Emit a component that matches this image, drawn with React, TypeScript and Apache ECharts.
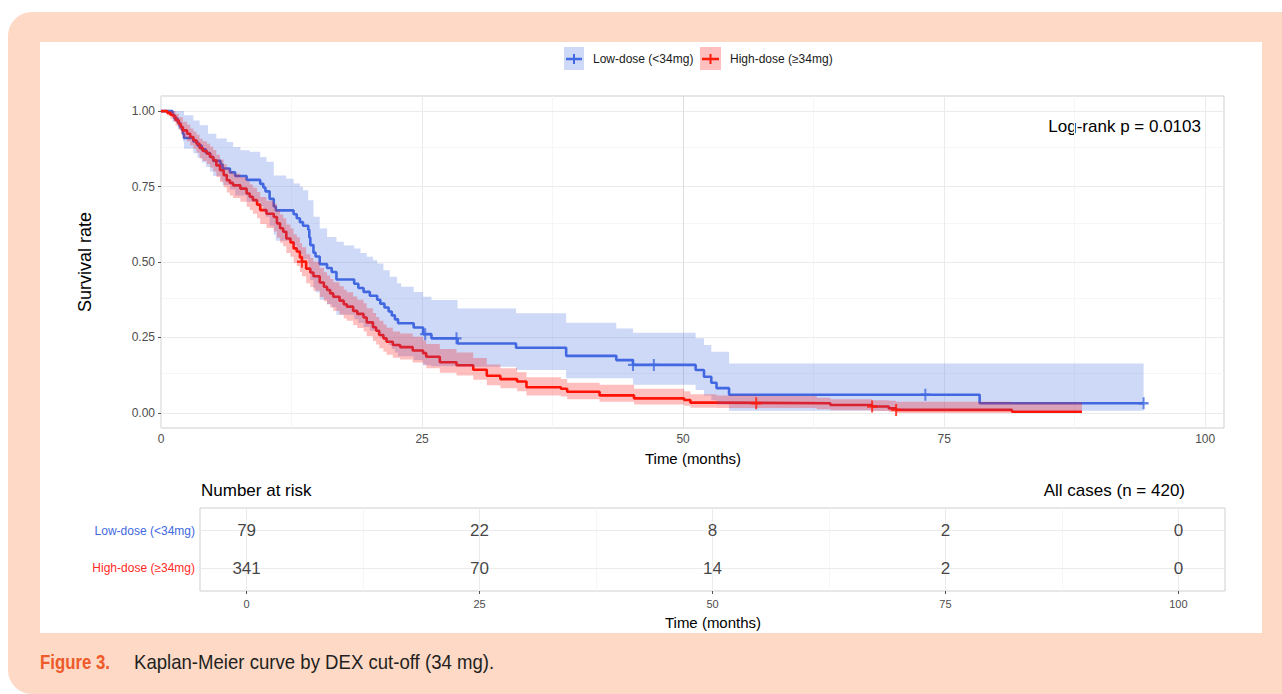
import React, { useEffect, useRef } from "react";
import * as echarts from "echarts";

// ---------------- data ----------------
const groups = ["Low-dose (<34mg)", "High-dose (≥34mg)"];

// Kaplan-Meier step points [time, survival]
const lowKM: number[][] = [
  [0, 1], [1.1, 0.987], [1.3, 0.975], [1.6, 0.962], [1.8, 0.949], [2.0, 0.937], [2.1, 0.924], [2.2, 0.911],
  [3.1, 0.899], [3.5, 0.886], [3.9, 0.873], [4.3, 0.861], [4.7, 0.848], [5.0, 0.835], [5.7, 0.823], [5.9, 0.81],
  [6.6, 0.797], [7.1, 0.785], [8.2, 0.772], [9.5, 0.759], [9.8, 0.747], [10.0, 0.734], [10.4, 0.709], [10.8, 0.684],
  [11.0, 0.671], [12.7, 0.658], [13.0, 0.645], [13.3, 0.632], [13.6, 0.62], [14.1, 0.607], [14.2, 0.581], [14.3, 0.556],
  [14.6, 0.531], [14.8, 0.518], [15.2, 0.493], [15.9, 0.48], [16.35, 0.467], [16.8, 0.442], [18.5, 0.428], [18.9, 0.414],
  [19.4, 0.401], [20.0, 0.388], [20.7, 0.375], [21.0, 0.362], [21.4, 0.349], [21.8, 0.336], [22.1, 0.323], [22.4, 0.31],
  [22.7, 0.297], [24.2, 0.283], [25.1, 0.261], [25.9, 0.247], [28.4, 0.23], [34.0, 0.216], [38.8, 0.189], [43.6, 0.175],
  [45.2, 0.159], [51.2, 0.142], [52.0, 0.12], [52.7, 0.1], [53.2, 0.082], [54.4, 0.06], [78.4, 0.032], [94.1, 0.032],
];
const lowUpper: number[][] = [
  [0, 1], [2.2, 0.986], [3.1, 0.969], [3.7, 0.953], [4.5, 0.925], [5.3, 0.909], [6.3, 0.898], [6.9, 0.881],
  [7.6, 0.87], [8.5, 0.865], [9.5, 0.848], [10.1, 0.832], [10.8, 0.787], [12.0, 0.776], [12.7, 0.76], [13.3, 0.749],
  [13.6, 0.738], [14.1, 0.705], [14.6, 0.65], [15.2, 0.611], [15.9, 0.583], [16.8, 0.567], [17.5, 0.555], [18.5, 0.545],
  [19.1, 0.53], [19.7, 0.517], [20.3, 0.506], [20.7, 0.495], [21.3, 0.473], [21.9, 0.451], [22.6, 0.43], [23.0, 0.418],
  [24.2, 0.401], [25.1, 0.385], [25.9, 0.374], [28.4, 0.346], [34.0, 0.33], [38.8, 0.299], [43.6, 0.28], [45.2, 0.266],
  [51.2, 0.247], [52.0, 0.225], [52.7, 0.203], [54.4, 0.164],
];
const lowLower: number[][] = [
  [0, 1], [1.1, 0.965], [1.6, 0.94], [2.1, 0.9], [2.2, 0.875], [3.1, 0.86], [3.5, 0.845], [3.9, 0.83],
  [4.3, 0.815], [4.7, 0.8], [5.0, 0.785], [5.7, 0.77], [5.9, 0.755], [6.6, 0.74], [7.1, 0.72], [8.2, 0.7],
  [9.5, 0.685], [9.8, 0.665], [10.0, 0.65], [10.4, 0.62], [10.8, 0.59], [11.0, 0.57], [12.7, 0.555], [13.0, 0.54],
  [13.3, 0.525], [13.6, 0.51], [14.1, 0.495], [14.2, 0.465], [14.3, 0.44], [14.6, 0.415], [14.8, 0.4], [15.2, 0.375],
  [15.9, 0.36], [16.35, 0.35], [16.8, 0.325], [18.5, 0.31], [18.9, 0.298], [19.4, 0.285], [20.0, 0.272], [20.7, 0.26],
  [21.0, 0.248], [21.4, 0.236], [21.8, 0.224], [22.1, 0.212], [22.4, 0.2], [22.7, 0.188], [24.2, 0.175], [25.1, 0.158],
  [25.9, 0.155], [28.4, 0.153], [34.0, 0.142], [38.8, 0.115], [45.2, 0.093], [51.2, 0.076], [52.0, 0.058], [52.7, 0.042],
  [53.2, 0.028], [54.4, 0.007],
];
const lowEnd = 94.1;

const highKM: number[][] = [
  [0, 1], [0.6, 0.994], [0.9, 0.988], [1.2, 0.982], [1.4, 0.97], [1.7, 0.958], [1.9, 0.947], [2.1, 0.936],
  [2.5, 0.925], [2.8, 0.914], [3.1, 0.903], [3.4, 0.892], [3.7, 0.878], [4.0, 0.868], [4.4, 0.859], [4.7, 0.848],
  [5.0, 0.837], [5.3, 0.82], [5.65, 0.804], [6.0, 0.788], [6.3, 0.771], [6.6, 0.762], [6.9, 0.754], [7.6, 0.743],
  [8.2, 0.727], [8.5, 0.716], [8.8, 0.705], [9.2, 0.69], [9.5, 0.672], [10.1, 0.66], [10.8, 0.649], [11.1, 0.628],
  [11.4, 0.612], [11.7, 0.6], [12.0, 0.578], [12.4, 0.565], [12.7, 0.545], [13.0, 0.535], [13.3, 0.515], [13.5, 0.501],
  [13.9, 0.478], [14.3, 0.465], [14.6, 0.453], [15.2, 0.432], [15.6, 0.418], [15.9, 0.407], [16.2, 0.396], [16.5, 0.385],
  [17.1, 0.372], [17.5, 0.36], [17.8, 0.352], [18.4, 0.338], [18.8, 0.328], [19.4, 0.316], [19.7, 0.3], [20.3, 0.284],
  [20.6, 0.272], [20.9, 0.258], [21.3, 0.247], [21.6, 0.236], [22.2, 0.225], [22.9, 0.218], [24.1, 0.207], [25.1, 0.198],
  [25.4, 0.186], [26.7, 0.168], [28.3, 0.158], [29.9, 0.143], [31.2, 0.123], [32.5, 0.112], [34.1, 0.104], [35.0, 0.085],
  [38.3, 0.08], [38.9, 0.07], [42.0, 0.058], [45.3, 0.048], [50.1, 0.043], [50.7, 0.034], [53.2, 0.032], [64.1, 0.026],
  [68.1, 0.021], [69.7, 0.015], [70.4, 0.01], [81.5, 0.004], [88.2, 0.004],
];
const highUpper: number[][] = [
  [0, 1], [1.4, 0.99], [1.7, 0.98], [2.1, 0.965], [2.5, 0.955], [2.8, 0.942], [3.1, 0.932], [3.4, 0.922],
  [3.7, 0.908], [4.0, 0.9], [4.4, 0.892], [4.7, 0.882], [5.0, 0.871], [5.3, 0.855], [5.65, 0.84], [6.0, 0.824],
  [6.3, 0.81], [6.6, 0.8], [6.9, 0.792], [7.6, 0.782], [8.2, 0.767], [8.5, 0.757], [8.8, 0.746], [9.2, 0.732],
  [9.5, 0.715], [10.1, 0.703], [10.8, 0.693], [11.1, 0.672], [11.4, 0.657], [11.7, 0.645], [12.0, 0.624], [12.4, 0.611],
  [12.7, 0.592], [13.0, 0.582], [13.3, 0.562], [13.5, 0.549], [13.9, 0.526], [14.3, 0.513], [14.6, 0.501], [15.2, 0.48],
  [15.6, 0.466], [15.9, 0.455], [16.2, 0.444], [16.5, 0.433], [17.1, 0.42], [17.5, 0.408], [17.8, 0.4], [18.4, 0.386],
  [18.8, 0.375], [19.4, 0.363], [19.7, 0.347], [20.3, 0.331], [20.6, 0.318], [20.9, 0.305], [21.3, 0.293], [21.6, 0.282],
  [22.2, 0.27], [22.9, 0.263], [24.1, 0.252], [25.1, 0.24], [25.4, 0.228], [26.7, 0.212], [28.3, 0.2], [29.9, 0.182],
  [31.2, 0.16], [32.5, 0.148], [34.1, 0.135], [35.0, 0.118], [38.3, 0.112], [38.9, 0.1], [42.0, 0.093], [45.3, 0.08],
  [50.1, 0.072], [50.7, 0.062], [53.2, 0.058], [57.0, 0.056], [62.8, 0.05], [64.1, 0.045], [68.1, 0.042], [69.7, 0.04],
  [70.4, 0.037], [81.5, 0.035],
];
const highLower: number[][] = [
  [0, 1], [0.6, 0.985], [0.9, 0.975], [1.2, 0.966], [1.4, 0.952], [1.7, 0.938], [1.9, 0.925], [2.1, 0.912],
  [2.5, 0.9], [2.8, 0.887], [3.1, 0.875], [3.4, 0.862], [3.7, 0.843], [4.0, 0.835], [4.4, 0.825], [4.7, 0.813],
  [5.0, 0.8], [5.3, 0.782], [5.65, 0.765], [6.0, 0.748], [6.3, 0.73], [6.6, 0.72], [6.9, 0.712], [7.6, 0.7],
  [8.2, 0.683], [8.5, 0.672], [8.8, 0.66], [9.2, 0.645], [9.5, 0.626], [10.1, 0.613], [10.8, 0.601], [11.1, 0.58],
  [11.4, 0.564], [11.7, 0.552], [12.0, 0.53], [12.4, 0.517], [12.7, 0.497], [13.0, 0.487], [13.3, 0.467], [13.5, 0.453],
  [13.9, 0.43], [14.3, 0.417], [14.6, 0.405], [15.2, 0.384], [15.6, 0.37], [15.9, 0.36], [16.2, 0.349], [16.5, 0.338],
  [17.1, 0.325], [17.5, 0.313], [17.8, 0.305], [18.4, 0.291], [18.8, 0.281], [19.4, 0.27], [19.7, 0.254], [20.3, 0.238],
  [20.6, 0.227], [20.9, 0.214], [21.3, 0.203], [21.6, 0.193], [22.2, 0.183], [22.9, 0.177], [24.1, 0.167], [25.1, 0.16],
  [25.4, 0.148], [26.7, 0.133], [28.3, 0.124], [29.9, 0.11], [31.2, 0.092], [32.5, 0.082], [34.1, 0.072], [35.0, 0.058],
  [38.3, 0.054], [38.9, 0.045], [42.0, 0.037], [45.3, 0.028], [50.1, 0.024], [50.7, 0.017], [53.2, 0.016], [62.8, 0.012],
  [64.1, 0.009], [68.1, 0.006], [69.7, 0.003], [70.4, 0.0],
];
const highEnd = 88.2;

// censoring marks
const lowCensor: number[][] = [[25.3, 0.261], [28.3, 0.247], [45.2, 0.159], [47.2, 0.159], [73.2, 0.06], [94.1, 0.032]];
const highCensor: number[][] = [[13.5, 0.501], [57.0, 0.032], [68.1, 0.021], [70.4, 0.01]];

// axes
const xTicks = [0, 25, 50, 75, 100];
const xMinor = [12.5, 37.5, 62.5, 87.5];
const yTicks = [0, 0.25, 0.5, 0.75, 1];
const yMinor = [0.125, 0.375, 0.625, 0.875];

// number at risk
const riskTimes = [0, 25, 50, 75, 100];
const riskLow = [79, 22, 8, 2, 0];
const riskHigh = [341, 70, 14, 2, 0];

const pValueText = "Log-rank p = 0.0103";
const totalText = "All cases (n = 420)";

// ---------------- styles ----------------
const BLUE = "#4169E1";
const RED = "#FF1A0A";
const BLUE_FILL = "rgba(65,105,225,0.26)";
const RED_FILL = "rgba(255,0,0,0.25)";
const FONT = '"Liberation Sans", Arial, sans-serif';
const PLUS = "path://M4,0h2v10h-2zM0,4h10v2h-10z";

function bandRender(upper: number[][], lower: number[][], end: number, fill: string) {
  return (params: any, api: any) => {
    if (params.dataIndex !== 0) return null;
    const pts: number[][] = [];
    for (let i = 0; i < upper.length; i++) {
      const t = upper[i][0];
      const v = upper[i][1];
      const tn = i + 1 < upper.length ? upper[i + 1][0] : end;
      pts.push(api.coord([t, v]), api.coord([tn, v]));
    }
    for (let i = lower.length - 1; i >= 0; i--) {
      const t = lower[i][0];
      const v = lower[i][1];
      const tn = i + 1 < lower.length ? lower[i + 1][0] : end;
      pts.push(api.coord([tn, v]), api.coord([t, v]));
    }
    return { type: "polygon", shape: { points: pts }, style: { fill } };
  };
}

const MAJOR = "#EBEBEB";
const MINOR = "#F6F6F6";

export default function App() {
  const ref = useRef<HTMLDivElement>(null);

  useEffect(() => {
    if (!ref.current) return;
    const chart = echarts.init(ref.current, null, { renderer: "svg" });

    const mainGrid = [
      ...yMinor.map((v) => ({ yAxis: v, lineStyle: { color: MINOR } })),
      ...xMinor.map((v) => ({ xAxis: v, lineStyle: { color: MINOR } })),
      ...yTicks.map((v) => ({ yAxis: v, lineStyle: { color: MAJOR } })),
      ...xTicks.map((v) => ({ xAxis: v, lineStyle: { color: v === 50 ? "#DEDEDE" : MAJOR } })),
    ];
    const riskGrid = [
      ...xMinor.map((v) => ({ xAxis: v, lineStyle: { color: MINOR } })),
      ...xTicks.map((v) => ({ xAxis: v, lineStyle: { color: MAJOR } })),
      { yAxis: 1, lineStyle: { color: MAJOR } },
      { yAxis: 2, lineStyle: { color: MAJOR } },
    ];

    const tickLabel = { color: "#4D4D4D", fontSize: 12, fontFamily: FONT };

    const option: any = {
      animation: false,
      textStyle: { fontFamily: FONT },
      grid: [
        { left: 161, top: 96, width: 1063, height: 332, show: true, borderColor: "#CFCFCF", borderWidth: 1, backgroundColor: "transparent" },
        { left: 200, top: 508, width: 1025, height: 83, show: true, borderColor: "#CFCFCF", borderWidth: 1, backgroundColor: "transparent" },
      ],
      xAxis: [
        {
          type: "value", gridIndex: 0, min: 0, max: 101.8,
          axisLine: { show: false }, splitLine: { show: false },
          axisTick: { show: true, length: 3, customValues: xTicks, lineStyle: { color: "#555" } },
          axisLabel: { ...tickLabel, margin: 5, customValues: xTicks },
        },
        {
          type: "value", gridIndex: 1, min: -5, max: 105,
          axisLine: { show: false }, splitLine: { show: false },
          axisTick: { show: true, length: 3, customValues: riskTimes, lineStyle: { color: "#555" } },
          axisLabel: { ...tickLabel, fontSize: 11, margin: 7, customValues: riskTimes },
        },
      ],
      yAxis: [
        {
          type: "value", gridIndex: 0, min: -0.05, max: 1.05,
          axisLine: { show: false }, splitLine: { show: false },
          axisTick: { show: true, length: 3, customValues: yTicks, lineStyle: { color: "#555" } },
          axisLabel: { ...tickLabel, margin: 6, customValues: yTicks, formatter: (v: number) => v.toFixed(2) },
        },
        {
          type: "value", gridIndex: 1, min: 0.4, max: 2.6, inverse: true,
          axisLine: { show: false }, splitLine: { show: false },
          axisTick: { show: true, length: 3, customValues: [1, 2], lineStyle: { color: "#555" } },
          axisLabel: {
            margin: 5, customValues: [1, 2],
            formatter: (v: number) => (v === 1 ? "{a|" + groups[0] + "}" : "{b|" + groups[1] + "}"),
            rich: {
              a: { color: BLUE, fontSize: 12, fontFamily: FONT },
              b: { color: "#FF2A1F", fontSize: 12, fontFamily: FONT },
            },
          },
        },
      ],
      series: [
        {
          type: "line", xAxisIndex: 0, yAxisIndex: 0, data: [[0, 0]], symbol: "none", lineStyle: { opacity: 0 },
          silent: true, z: 1,
          markLine: { silent: true, symbol: ["none", "none"], label: { show: false }, z: 1, animation: false, lineStyle: { type: "solid", width: 1 }, data: mainGrid },
        },
        {
          type: "line", xAxisIndex: 1, yAxisIndex: 1, data: [[0, 0]], symbol: "none", lineStyle: { opacity: 0 },
          silent: true, z: 1,
          markLine: { silent: true, symbol: ["none", "none"], label: { show: false }, z: 1, animation: false, lineStyle: { type: "solid", width: 1 }, data: riskGrid },
        },
        {
          name: groups[0], type: "line", xAxisIndex: 0, yAxisIndex: 0, step: "end", data: lowKM,
          showSymbol: false, symbol: "none", lineStyle: { color: BLUE, width: 2.6 }, itemStyle: { color: BLUE }, z: 3,
        },
        {
          name: groups[1], type: "line", xAxisIndex: 0, yAxisIndex: 0, step: "end", data: highKM,
          showSymbol: false, symbol: "none", lineStyle: { color: RED, width: 2.6 }, itemStyle: { color: RED }, z: 3,
        },
        {
          type: "custom", xAxisIndex: 0, yAxisIndex: 0, data: [[0, 1]], silent: true, z: 4,
          renderItem: bandRender(lowUpper, lowLower, lowEnd, BLUE_FILL),
        },
        {
          type: "custom", xAxisIndex: 0, yAxisIndex: 0, data: [[0, 1]], silent: true, z: 4,
          renderItem: bandRender(highUpper, highLower, highEnd, RED_FILL),
        },
        {
          type: "scatter", xAxisIndex: 0, yAxisIndex: 0, data: lowCensor, symbol: PLUS, symbolSize: [10, 12],
          itemStyle: { color: BLUE }, z: 5, silent: true,
        },
        {
          type: "scatter", xAxisIndex: 0, yAxisIndex: 0, data: highCensor, symbol: PLUS, symbolSize: [10, 12],
          itemStyle: { color: RED }, z: 5, silent: true,
        },
        {
          type: "scatter", xAxisIndex: 1, yAxisIndex: 1, symbolSize: 1, itemStyle: { color: "transparent" }, z: 5, silent: true,
          data: riskTimes.map((t, i) => [t, 1, riskLow[i]]),
          label: { show: true, position: "inside", formatter: (p: any) => String(p.value[2]), fontSize: 17, color: "#111111", fontFamily: FONT },
        },
        {
          type: "scatter", xAxisIndex: 1, yAxisIndex: 1, symbolSize: 1, itemStyle: { color: "transparent" }, z: 5, silent: true,
          data: riskTimes.map((t, i) => [t, 2, riskHigh[i]]),
          label: { show: true, position: "inside", formatter: (p: any) => String(p.value[2]), fontSize: 17, color: "#111111", fontFamily: FONT },
        },
      ],
      graphic: [
        { type: "rect", z: -10, silent: true, shape: { x: 8, y: 12, width: 1300, height: 682, r: [24, 0, 0, 24] }, style: { fill: "#FDD9C6" } },
        { type: "rect", z: -9, silent: true, shape: { x: 40, y: 42, width: 1222, height: 591 }, style: { fill: "#FFFFFF" } },
        // legend
        { type: "rect", shape: { x: 564, y: 47, width: 20, height: 23 }, style: { fill: BLUE_FILL } },
        { type: "line", shape: { x1: 566, y1: 59, x2: 582, y2: 59 }, style: { stroke: BLUE, lineWidth: 2.5 } },
        { type: "line", shape: { x1: 574, y1: 54, x2: 574, y2: 64 }, style: { stroke: BLUE, lineWidth: 2 } },
        { type: "text", x: 593, y: 59, style: { text: groups[0], fontSize: 12, fontFamily: FONT, fill: "#1A1A1A", verticalAlign: "middle", align: "left" } },
        { type: "rect", shape: { x: 700, y: 47, width: 21, height: 23 }, style: { fill: RED_FILL } },
        { type: "line", shape: { x1: 702, y1: 59, x2: 719, y2: 59 }, style: { stroke: RED, lineWidth: 2.5 } },
        { type: "line", shape: { x1: 710.5, y1: 54, x2: 710.5, y2: 64 }, style: { stroke: RED, lineWidth: 2 } },
        { type: "text", x: 730, y: 59, style: { text: groups[1], fontSize: 12, fontFamily: FONT, fill: "#1A1A1A", verticalAlign: "middle", align: "left" } },
        // annotations & titles
        { type: "text", x: 1201, y: 126, style: { text: pValueText, fontSize: 17, fontFamily: FONT, fill: "#000", align: "right", verticalAlign: "middle" } },
        { type: "text", x: 85, y: 262, rotation: Math.PI / 2, style: { text: "Survival rate", fontSize: 18, fontFamily: FONT, fill: "#000", align: "center", verticalAlign: "middle" } },
        { type: "text", x: 693, y: 458, style: { text: "Time (months)", fontSize: 15, fontFamily: FONT, fill: "#000", align: "center", verticalAlign: "middle" } },
        { type: "text", x: 201, y: 490, style: { text: "Number at risk", fontSize: 17, fontFamily: FONT, fill: "#000", align: "left", verticalAlign: "middle" } },
        { type: "text", x: 1185, y: 490, style: { text: totalText, fontSize: 17, fontFamily: FONT, fill: "#000", align: "right", verticalAlign: "middle" } },
        { type: "text", x: 713, y: 622, style: { text: "Time (months)", fontSize: 15, fontFamily: FONT, fill: "#000", align: "center", verticalAlign: "middle" } },
        // caption (condensed look via horizontal scaling)
        { type: "text", x: 40, y: 662, scaleX: 0.84, style: { text: "Figure 3.", fontSize: 20, fontWeight: "bold", fontFamily: FONT, fill: "#EE5A2A", align: "left", verticalAlign: "middle" } },
        { type: "text", x: 134, y: 662, scaleX: 0.93, style: { text: "Kaplan-Meier curve by DEX cut-off (34 mg).", fontSize: 20, fontFamily: FONT, fill: "#231F20", align: "left", verticalAlign: "middle" } },
      ],
    };

    chart.setOption(option);
    return () => chart.dispose();
  }, []);

  return (
    <div
      ref={ref}
      style={{ position: "absolute", left: 0, top: 0, width: 1282, height: 694, background: "#FFFFFF" }}
    />
  );
}
